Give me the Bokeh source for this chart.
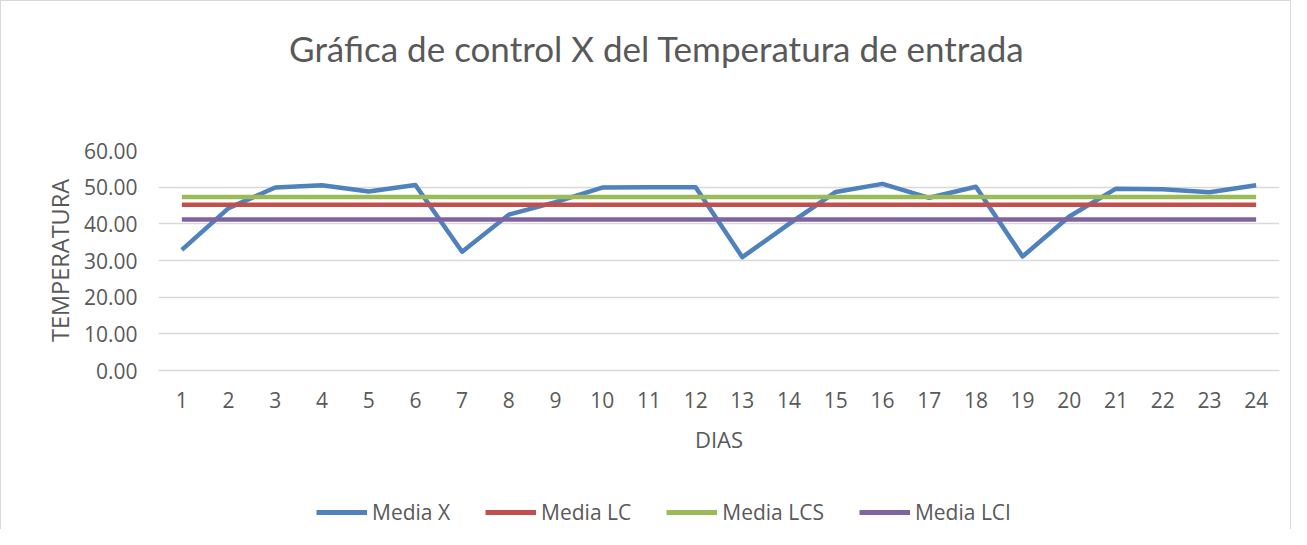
from bokeh.plotting import figure
from bokeh.models import Range1d, FixedTicker, Legend, LegendItem, CustomJSTickFormatter
from bokeh.layouts import column
from bokeh.core.properties import value
from bokeh.embed import file_html
from bokeh.resources import INLINE

dias = list(range(1, 25))
media_x = [32.9, 44.3, 49.9, 50.5, 48.8, 50.6, 32.4, 42.5, 45.9, 49.9, 50.0, 50.0,
           30.9, 40.0, 48.7, 50.9, 47.1, 50.1, 31.1, 42.0, 49.6, 49.4, 48.6, 50.5]
media_lc = [45.2] * 24
media_lcs = [47.3] * 24
media_lci = [41.2] * 24
y_ticks = [0, 10, 20, 30, 40, 50, 60]
titulo = "Gráfica de control  X del Temperatura de entrada"
series = ["Media X", "Media LC", "Media LCS", "Media LCI"]
colores = ["#4f81bd", "#c0504d", "#9bbb59", "#8064a2"]

FONT = "Open Sans"
TFONT = "Lato"
GREY = "#595959"
BORDER = "1px solid #d9d9d9"
W = 1291
H_TITLE, H_MAIN, H_LEG = 100, 380, 49
FL, FR = 157, 13  # frame borders (shared by all strips because the column aligns frames)


def strip(h, yr, extra_styles):
    f = figure(width=W, height=h, output_backend="svg", toolbar_location=None,
               x_range=Range1d(FL, W - 2 - FR), y_range=yr,
               min_border_left=FL, min_border_right=FR,
               min_border_top=0, min_border_bottom=0)
    f.axis.visible = False
    f.grid.visible = False
    f.outline_line_color = None
    f.styles = dict(extra_styles, **{"box-sizing": "border-box"})
    return f


# ---- title strip ----
pt = strip(H_TITLE, Range1d(0, H_TITLE - 1),
           {"border-left": BORDER, "border-top": BORDER, "border-right": BORDER})
pt.text(x=[659], y=[H_TITLE - 1 - 46], text=[titulo], text_align="center",
        text_baseline="middle", text_font=value(TFONT), text_font_size="35px",
        text_color=GREY)

# ---- main chart ----
p = figure(width=W, height=H_MAIN, output_backend="svg", toolbar_location=None,
           x_range=Range1d(0.5, 24.5), y_range=Range1d(0, 60),
           min_border_left=FL, min_border_right=FR, min_border_top=50, min_border_bottom=110)
p.styles = {"border-left": BORDER, "border-right": BORDER, "box-sizing": "border-box"}
p.outline_line_color = None

p.line(dias, media_x, line_color=colores[0], line_width=4.5, line_join="round")
p.line(dias, media_lc, line_color=colores[1], line_width=4.5)
p.line(dias, media_lcs, line_color=colores[2], line_width=4.5)
p.line(dias, media_lci, line_color=colores[3], line_width=4.5)

p.yaxis.ticker = FixedTicker(ticks=y_ticks)
p.yaxis.formatter = CustomJSTickFormatter(code="return tick.toFixed(2);")
p.yaxis.axis_line_color = None
p.yaxis.major_tick_line_color = None
p.yaxis.minor_tick_line_color = None
p.yaxis.major_label_text_font = FONT
p.yaxis.major_label_text_font_size = "21px"
p.yaxis.major_label_text_color = GREY
p.yaxis.major_label_standoff = 15
p.yaxis.axis_label = "TEMPERATURA"
p.yaxis.axis_label_text_font = FONT
p.yaxis.axis_label_text_font_size = "23.5px"
p.yaxis.axis_label_text_font_style = "normal"
p.yaxis.axis_label_text_color = GREY
p.yaxis.axis_label_standoff = 5

p.xaxis.ticker = FixedTicker(ticks=dias)
p.xaxis.axis_line_color = "#d9d9d9"
p.xaxis.axis_line_width = 1.5
p.xaxis.major_tick_line_color = None
p.xaxis.minor_tick_line_color = None
p.xaxis.major_label_text_font = FONT
p.xaxis.major_label_text_font_size = "21px"
p.xaxis.major_label_text_color = GREY
p.xaxis.major_label_standoff = 15
p.xaxis.axis_label = "DIAS"
p.xaxis.axis_label_text_font = FONT
p.xaxis.axis_label_text_font_size = "22px"
p.xaxis.axis_label_text_font_style = "normal"
p.xaxis.axis_label_text_color = GREY
p.xaxis.axis_label_standoff = 13

p.xgrid.grid_line_color = None
p.ygrid.grid_line_color = "#d9d9d9"
p.ygrid.grid_line_width = 1.5

# ---- legend strip (same series, drawn out of view; only the legend shows) ----
pl = strip(H_LEG, Range1d(1000, 1000 + H_LEG), {"border-left": BORDER, "border-right": BORDER})
items = []
for c, n, ys in zip(colores, series, [media_x, media_lc, media_lcs, media_lci]):
    r = pl.line(dias, ys, line_color=c, line_width=5)
    items.append(LegendItem(label=n, renderers=[r]))
legend = Legend(items=items, orientation="horizontal", location=(158, 3),
                label_text_font=FONT, label_text_font_size="21px", label_text_color=GREY,
                glyph_width=51, glyph_height=20, label_height=20, spacing=35, label_standoff=5,
                border_line_color=None, background_fill_alpha=0, margin=0, padding=0)
pl.add_layout(legend, "center")

layout = column(pt, p, pl, spacing=0)
open("out.html", "w").write(file_html(layout, INLINE))
